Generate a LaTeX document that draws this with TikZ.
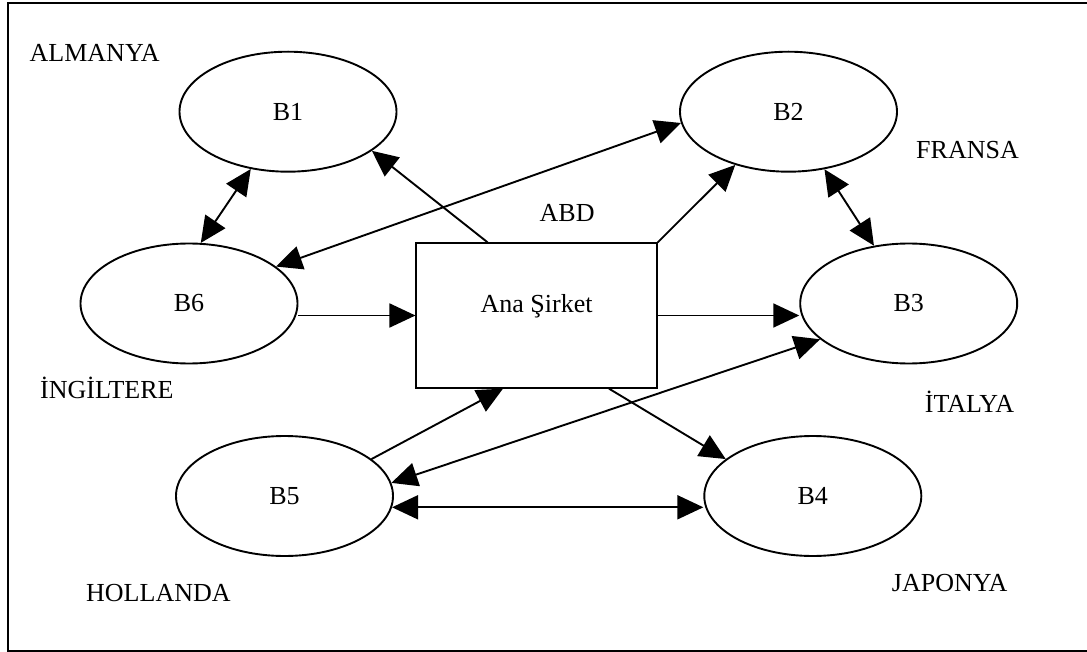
\documentclass[tikz,border=0pt]{standalone}
\usepackage{fontspec}
\setmainfont{Liberation Serif}
\usetikzlibrary{arrows.meta,shapes.geometric}
\begin{document}
\begin{tikzpicture}[x=1pt,y=-1pt,
  country/.style={font=\fontsize{26}{30}\selectfont, inner sep=0pt, anchor=base west},
  branch/.style={ellipse, draw, line width=1.9pt, minimum width=217pt, minimum height=120pt, inner sep=0pt, font=\fontsize{26}{30}\selectfont},
  hq/.style={rectangle, draw, line width=1.9pt, minimum width=240.4pt, minimum height=144.4pt, inner sep=0pt},
  tip/.tip={Triangle[length=26pt,width=24pt]},
  link/.style={line width=1.9pt, -tip},
  both/.style={line width=1.9pt, tip-tip}]
\useasboundingbox (0,0) rectangle (1087,652);
\draw[line width=1.8pt] (1087,3.3) -- (7.6,3.3) -- (7.6,651.3) -- (1087,651.3);

\node[branch] (B1) at (288,111.7) {B1};
\node[branch] (B2) at (788.5,111.7) {B2};
\node[branch] (B3) at (908.7,303.5) {B3};
\node[branch] (B4) at (812.8,496) {B4};
\node[branch] (B5) at (284.5,496) {B5};
\node[branch] (B6) at (189,303.5) {B6};
\node[hq] (A) at (536.6,315.5) {};
\node[font=\fontsize{26}{30}\selectfont, inner sep=0pt] (ana) at ([yshift=9pt]A.center) {Ana Şirket};

\node[country] (de) at (29.5,61.7) {ALMANYA};
\node[country] (fr) at (916,158.3) {FRANSA};
\node[country] (us) at (539.5,221.7) {ABD};
\node[country] (uk) at (40,398.7) {İNGİLTERE};
\node[country] (it) at (924.7,412) {İTALYA};
\node[country] (nl) at (86,601.3) {HOLLANDA};
\node[country] (jp) at (891.7,591.3) {JAPONYA};

\coordinate (b5r) at (B5.-6);
\draw[link] ([xshift=-49pt]A.north) -- (B1.-25);
\draw[both] (B6.23) -- (B2.186);
\draw[both] (B1.-123) -- (B6.79);
\draw[link] (A.north east) -- (B2.-135);
\draw[both] (B2.-58) -- (B3.121);
\draw[link] (B6.east |- A.west) -- (A.west);
\draw[link] (A.east) -- (A.east -| B3.west);
\draw[link] (B5.23) -- ([xshift=-33.6pt]A.south);
\draw[both] (B3.-158) -- (B5.7);
\draw[link] ([xshift=72.4pt]A.south) -- (B4.157);
\draw[both] (b5r) -- (b5r -| B4.west);
\end{tikzpicture}
\end{document}
